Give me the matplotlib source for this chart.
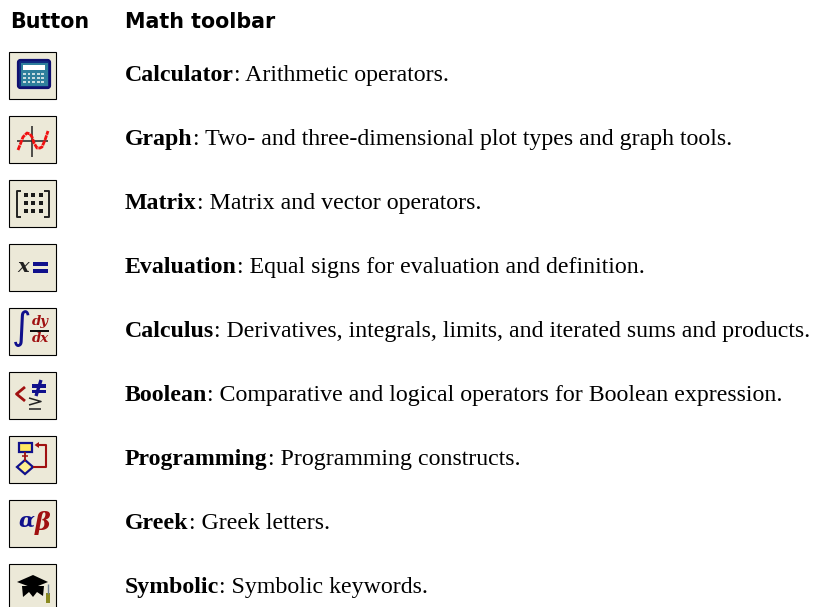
import matplotlib
matplotlib.use("Agg")
import matplotlib.pyplot as plt
from matplotlib.patches import Rectangle, Polygon, FancyBboxPatch
import numpy as np

header_button = "Button"
header_toolbar = "Math toolbar"
names = ["Calculator", "Graph", "Matrix", "Evaluation", "Calculus", "Boolean",
         "Programming", "Greek", "Symbolic"]
descriptions = [
    ": Arithmetic operators.",
    ": Two- and three-dimensional plot types and graph tools.",
    ": Matrix and vector operators.",
    ": Equal signs for evaluation and definition.",
    ": Derivatives, integrals, limits, and iterated sums and products.",
    ": Comparative and logical operators for Boolean expression.",
    ": Programming constructs.",
    ": Greek letters.",
    ": Symbolic keywords.",
]

W, H = 813, 607
fig = plt.figure(figsize=(W / 100, H / 100), dpi=100, facecolor="white")
ax = fig.add_axes([0, 0, 1, 1])
ax.set_xlim(0, W)
ax.set_ylim(H, 0)
ax.axis("off")

BTN = "#ece9d8"
NAVY = "#10108c"
RED = "#a01010"


def line(x0, y0, xs, ys, c="black", lw=1.5, **kw):
    ax.plot(np.asarray(xs) + x0, np.asarray(ys) + y0, color=c, lw=lw,
            solid_capstyle=kw.pop("cap", "butt"), **kw)


def rect(x0, y0, x, y, w, h, fc, ec="none", lw=0):
    ax.add_patch(Rectangle((x0 + x, y0 + y), w, h, fc=fc, ec=ec, lw=lw))


def poly(x0, y0, pts, fc, ec="none", lw=0):
    ax.add_patch(Polygon([(x0 + a, y0 + b) for a, b in pts], fc=fc, ec=ec, lw=lw))


def sym(x0, y0, x, y, s, size, c, **kw):
    ax.text(x0 + x, y0 + y, s, fontsize=size, color=c, ha="center", va="center", **kw)


def calculator(x0, y0):
    ax.add_patch(FancyBboxPatch((x0 + 9, y0 + 8), 32, 28, boxstyle="round,pad=0,rounding_size=2.5",
                                fc="#102a80", ec="#101070", lw=1.6))
    rect(x0, y0, 11.5, 10.5, 27, 23, "#2f7f9c")
    rect(x0, y0, 14, 13, 22, 5, "white")
    for r in range(3):
        for k in range(5):
            rect(x0, y0, 14 + k * 4.6, 21 + r * 4, 2.8, 2.4, "#c8dce0")


def graph(x0, y0):
    line(x0, y0, [8, 39], [25, 25], "#222222", 1.1)
    line(x0, y0, [23, 23], [10, 41], "#222222", 1.1)
    xs = [9, 11, 14, 18, 21, 23, 25, 28, 31, 33, 36, 39]
    ys = [34, 29, 21, 17, 18, 21, 27, 32, 32, 31, 24, 15]
    line(x0, y0, xs, ys, "#f01010", 2.0, ls=(0, (1.8, 0.25)))


def matrix(x0, y0):
    line(x0, y0, [12, 8, 8, 12], [10.5, 10.5, 36.5, 36.5], "#222222", 1.4)
    line(x0, y0, [35, 39.5, 39.5, 35], [10.5, 10.5, 36.5, 36.5], "#222222", 1.4)
    for r in range(3):
        for k in range(3):
            rect(x0, y0, 14.5 + k * 7.7, 13 + r * 8, 4, 4, "#1a1a1a")


def evaluation(x0, y0):
    sym(x0, y0, 14, 23, "x", 14, "#222222", family="DejaVu Serif", style="italic", weight="bold")
    rect(x0, y0, 24, 18, 15, 4.4, NAVY)
    rect(x0, y0, 24, 25, 15, 4.2, NAVY)


def calculus(x0, y0):
    sym(x0, y0, 12.5, 21, "\u222b", 27, NAVY, family="DejaVu Sans")
    sym(x0, y0, 31, 13, "dy", 9.5, RED, family="DejaVu Serif", weight="bold", style="italic")
    rect(x0, y0, 21, 22.3, 19, 1.6, "#101010")
    sym(x0, y0, 31, 31, "dx", 9.5, RED, family="DejaVu Serif", weight="bold", style="italic")


def boolean(x0, y0):
    line(x0, y0, [16, 7.5, 16], [15, 22, 29], RED, 2.0)
    rect(x0, y0, 23, 12, 14, 3.6, NAVY)
    rect(x0, y0, 23, 17.5, 14, 3.2, NAVY)
    line(x0, y0, [32, 27], [8, 24], NAVY, 2.4)
    line(x0, y0, [20, 32, 20], [26, 29.5, 33], "#222222", 1.1)
    line(x0, y0, [20, 32], [37, 37], "#222222", 1.1)


def programming(x0, y0):
    rect(x0, y0, 9.5, 6.5, 13, 9, "#ffe860", NAVY, 1.6)
    line(x0, y0, [16, 16], [16, 25], RED, 1.3)
    line(x0, y0, [13, 19], [20, 20], RED, 1.1)
    poly(x0, y0, [(16, 24), (24, 31), (16, 38), (8, 31)], "#fff090", NAVY, 1.6)
    line(x0, y0, [24, 37, 37, 27], [31, 31, 9, 9], RED, 1.5)
    poly(x0, y0, [(25.5, 9), (30, 6), (30, 12)], RED)


def greek(x0, y0):
    sym(x0, y0, 17.5, 21, "\u03b1", 15, NAVY, family="DejaVu Serif", style="italic", weight="bold")
    sym(x0, y0, 34, 23, "\u03b2", 17, RED, family="DejaVu Serif", style="italic", weight="bold")


def symbolic(x0, y0):
    poly(x0, y0, [(8, 18), (24, 11), (39, 18), (24, 24)], "black")
    poly(x0, y0, [(13, 22), (35, 22), (34, 32), (28, 28), (24, 33), (20, 28), (14, 33)], "black")
    line(x0, y0, [39, 39], [20, 30], "#708090", 1.0)
    rect(x0, y0, 37, 29, 4, 10, "#8a8a20")


icons = [calculator, graph, matrix, evaluation, calculus, boolean, programming, greek, symbolic]

ax.text(10, 22.5, header_button, family="DejaVu Sans", weight="bold", fontsize=14.9, va="center", ha="left", color="black")
ax.text(125, 22.5, header_toolbar, family="DejaVu Sans", weight="bold", fontsize=14.9, va="center", ha="left", color="black")

renderer = fig.canvas.get_renderer()
inv = ax.transData.inverted()
for i, (name, desc, icon) in enumerate(zip(names, descriptions, icons)):
    top = 52 + 64 * i
    ax.add_patch(Rectangle((9, top), 47, 47, fc=BTN, ec="black", lw=0.8))
    icon(9, top)
    base = top + 29
    t = ax.text(125, base, name, family="Liberation Serif", weight="bold", fontsize=17.2,
                va="baseline", ha="left", color="black")
    bb = t.get_window_extent(renderer)
    x1 = inv.transform((bb.x1, bb.y0))[0]
    ax.text(x1, base, desc, family="Liberation Serif", fontsize=17.2, va="baseline", ha="left", color="black")

fig.savefig("out.png", dpi=100, facecolor="white")
